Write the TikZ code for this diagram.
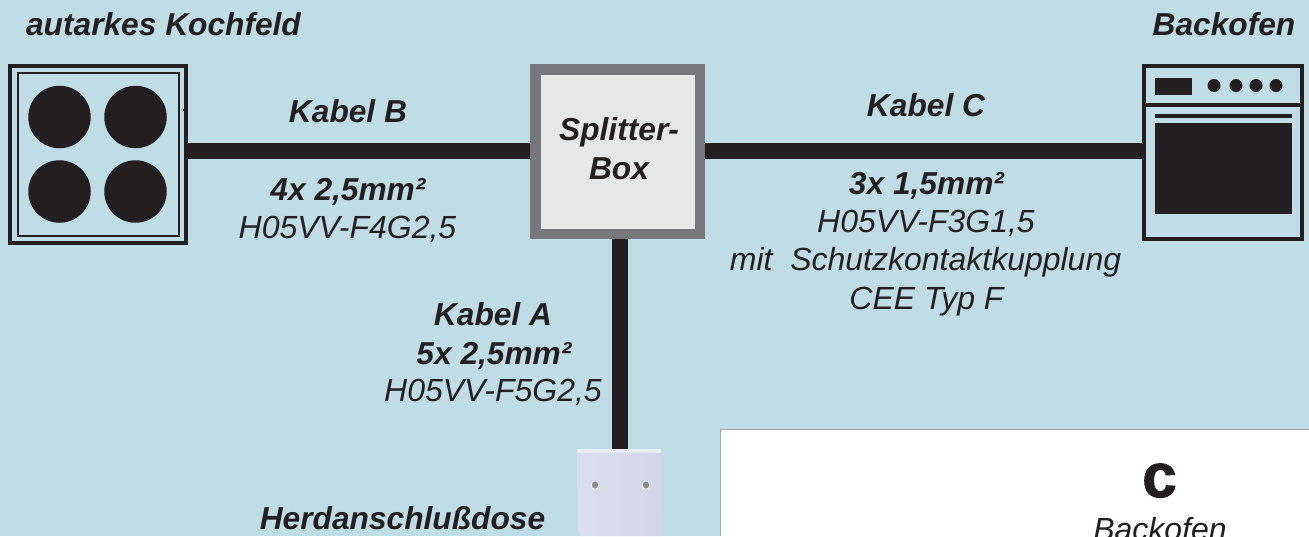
\documentclass[tikz,border=0pt]{standalone}
\usepackage{fontspec}
\usetikzlibrary{shapes.geometric}
\setmainfont{Liberation Sans}
\newfontfamily\heavyfont[FakeBold=1.6]{Liberation Sans Bold}
\definecolor{bgblue}{HTML}{BFDCE7}
\definecolor{ink}{HTML}{231F20}
\definecolor{boxgrey}{HTML}{77787B}
\definecolor{boxfill}{HTML}{E6E7E8}
\definecolor{sockA}{HTML}{DADDEE}
\definecolor{sockB}{HTML}{D2D6E8}
\definecolor{sockTop}{HTML}{E8EAF4}
\definecolor{dimplegrey}{HTML}{8F8D88}
\tikzset{
  head/.style={inner sep=0pt,font=\fontsize{31.7}{36}\selectfont\bfseries\itshape,text=ink,align=center},
  note/.style={inner sep=0pt,font=\fontsize{32}{38}\selectfont\itshape,text=ink,align=center},
  cable/.style={draw=ink,line width=16pt},
  plate/.style={draw=ink,line width=4pt},
  disc/.style={circle,fill=ink,inner sep=0pt},
  dimple/.style={ellipse,fill=dimplegrey,draw=sockTop,line width=1pt,inner sep=0pt,minimum width=7.5pt,minimum height=8.5pt},
}
\begin{document}
\begin{tikzpicture}[x=1pt,y=-1pt]
\useasboundingbox (0,0) rectangle (1309,536);
\fill[bgblue] (0,0) rectangle (1309,536);
% white panel
\fill[white] (720.5,429.5) rectangle (1309,536);
\draw[gray!70,line width=.8pt] (720.5,536) -- (720.5,429.5) -- (1309,429.5);
% splitter
\node[draw=boxgrey,line width=10.5pt,fill=boxfill,minimum size=164.5pt,inner sep=0pt,outer sep=0pt] (split) at (617.5,151.5) {};
% socket
\shade[left color=sockA,right color=sockB] (577.5,449) -- (661,449) -- (662,536) -- (581,536) to[out=250,in=90] (578,530) -- cycle;
\fill[sockTop] (577,449) -- (661,449) -- (661,452.5) -- (577,452.5) -- cycle;
% cables
\coordinate (hobE) at (188,150.5);
\coordinate (splitW) at (530,150.5);
\coordinate (splitE) at (705,150.5);
\coordinate (ovenW) at (1142,150.5);
\coordinate (splitS) at (619.5,239);
\coordinate (socketN) at (619.5,449);
\draw[cable] (hobE) -- (splitW);
\draw[cable] (splitE) -- (ovenW);
\draw[cable] (splitS) -- (socketN);
% hob
\draw[plate] (10,66) rectangle (186,243);
\draw[ink,line width=2pt] (18,73) rectangle (179,236);
\fill[ink] (183,109) rectangle (185,111);
\node[disc,minimum size=62.5pt] (d1) at (59.5,117) {};
\node[disc,minimum size=62.5pt] (d2) at (135.5,117) {};
\node[disc,minimum size=62.5pt] (d3) at (59.5,191.5) {};
\node[disc,minimum size=62.5pt] (d4) at (135.5,191.5) {};
% oven
\draw[plate] (1144,66) rectangle (1302,239);
\draw[ink,line width=3.5pt] (1144,105) -- (1302,105);
\fill[ink] (1155,78) rectangle (1192,94.5);
\node[disc,minimum size=13pt] (k1) at (1214,85.5) {};
\node[disc,minimum size=13pt] (k2) at (1236,85.5) {};
\node[disc,minimum size=13pt] (k3) at (1256,85.5) {};
\node[disc,minimum size=13pt] (k4) at (1276,85.5) {};
\fill[ink] (1155,114) rectangle (1292,118);
\fill[ink] (1155,123) rectangle (1292,214);
% socket dimples
\node[dimple] (h1) at (595,485) {};
\node[dimple] (h2) at (646,485) {};
% texts
\node[head,anchor=base] (t1) at (163.5,35) {autarkes Kochfeld};
\node[head,anchor=base] (t2) at (1224,35) {Backofen};
\node[head,anchor=base] (t3) at (348,122.5) {Kabel B};
\node[head,anchor=base] (t4) at (926,116.7) {Kabel C};
\node[head,anchor=base] (t5) at (619,140) {Splitter-};
\node[head,anchor=base] (t6) at (619,179.5) {Box};
\node[head,anchor=base] (t7) at (348,200) {4x 2,5mm²};
\node[note,anchor=base] (t8) at (347.5,238) {H05VV-F4G2,5};
\node[head,anchor=base] (t9) at (926.5,194.3) {3x 1,5mm²};
\node[note,anchor=base] (t10) at (926,232.5) {H05VV-F3G1,5};
\node[note,anchor=base] (t11) at (925.5,270.7) {mit\ \ Schutzkontaktkupplung};
\node[note,anchor=base] (t12) at (926.5,309) {CEE Typ F};
\node[head,anchor=base] (t13) at (493,325) {Kabel A};
\node[head,anchor=base] (t14) at (494,364) {5x 2,5mm²};
\node[note,anchor=base] (t15) at (493,401) {H05VV-F5G2,5};
\node[head,anchor=base] (t16) at (402.5,529.5) {Herdanschlußdose};
\node[inner sep=0pt,anchor=base,text=ink,font=\fontsize{62}{62}\heavyfont] (t17) at (1159.5,497) {c};
\node[note,anchor=base] (t18) at (1160,540) {Backofen};
\end{tikzpicture}
\end{document}
